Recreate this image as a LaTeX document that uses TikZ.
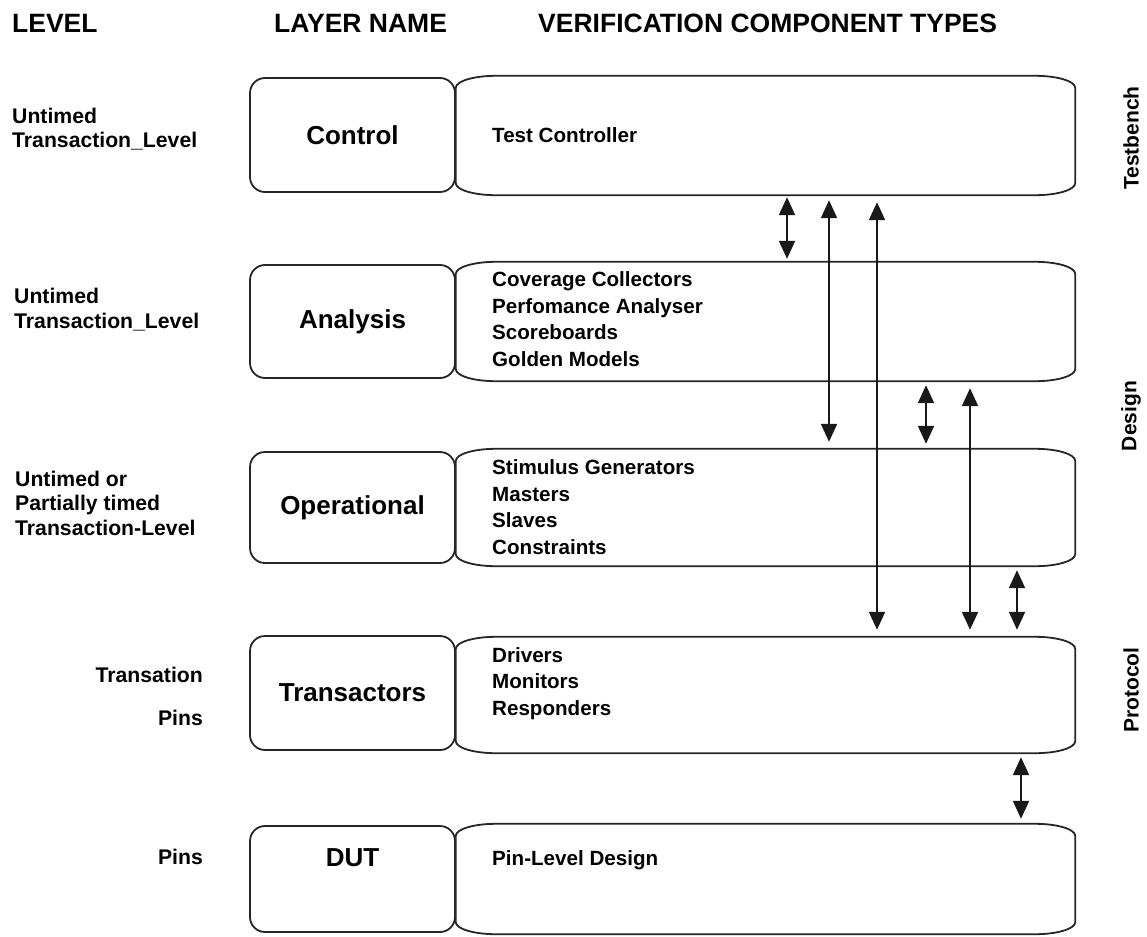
\documentclass[tikz,border=0pt]{standalone}
\usepackage{fontspec}
\setmainfont{Liberation Sans}
\usetikzlibrary{arrows.meta}

% outline of a component box: straight left/right sides, flat elliptic corners
\newcommand\capbox[1]{%
  \draw[boxline] ([xshift=40pt]#1.north west) -- ([xshift=-40pt]#1.north east)
    arc[start angle=90, end angle=0, x radius=40pt, y radius=12pt]
    -- ([yshift=12pt]#1.south east)
    arc[start angle=0, end angle=-90, x radius=40pt, y radius=12pt]
    -- ([xshift=40pt]#1.south west)
    arc[start angle=270, end angle=180, x radius=40pt, y radius=12pt]
    -- ([yshift=-12pt]#1.north west)
    arc[start angle=180, end angle=90, x radius=40pt, y radius=12pt] -- cycle;}

\begin{document}
\begin{tikzpicture}[x=1pt, y=-1pt,
  boxline/.style={draw=black!85, line width=1.8pt},
  layerbox/.style={boxline, rounded corners=15pt, minimum width=205pt,
    inner sep=0pt, font=\bfseries\fontsize{26}{30}\selectfont},
  compbox/.style={minimum width=619pt, inner sep=0pt},
  header/.style={anchor=base west, inner sep=0pt, font=\bfseries\fontsize{26.5}{30}\selectfont},
  leveltext/.style={inner sep=0pt, align=left, font=\bfseries\fontsize{21.2}{24.5}\selectfont},
  comptext/.style={anchor=base west, inner sep=0pt, align=left, font=\bfseries\fontsize{20.6}{26.5}\selectfont},
  sidetext/.style={rotate=90, inner sep=0pt, font=\bfseries\fontsize{21}{25}\selectfont},
  link/.style={draw=black!90, line width=2pt,
    {Triangle[length=18pt, width=16pt]}-{Triangle[length=18pt, width=16pt]}}]

\useasboundingbox (0,0) rectangle (1147,936);
\fill[white] (0,0) rectangle (1147,936);

% column headings
\node[header] (hlevel) at (12,33) {LEVEL};
\node[header] (hlayer) at (274,33) {LAYER NAME};
\node[header] (hcomp)  at (538,33) {VERIFICATION COMPONENT TYPES};

% layer boxes
\node[layerbox, minimum height=114pt] (ctrl) at (352.5,135)   {Control};
\node[layerbox, minimum height=113pt] (ana)  at (352.5,321.5) {Analysis};
\node[layerbox, minimum height=111pt] (oper) at (352.5,507.5) {Operational};
\node[layerbox, minimum height=114pt] (tran) at (352.5,693)   {Transactors};
\node[layerbox, minimum height=106pt] (dut)  at (352.5,879)   {};
\node[inner sep=0pt, font=\bfseries\fontsize{26}{30}\selectfont] (dutname) at (352.5,858) {DUT};

% component boxes
\node[compbox, minimum height=119pt] (ctrlR) at (765.5,135.5) {};
\node[compbox, minimum height=119pt] (anaR)  at (765.5,321.5) {};
\node[compbox, minimum height=117pt] (operR) at (765.5,507.5) {};
\node[compbox, minimum height=116pt] (tranR) at (765.5,695)   {};
\node[compbox, minimum height=110pt] (dutR)  at (765.5,879)   {};
\capbox{ctrlR}
\capbox{anaR}
\capbox{operR}
\capbox{tranR}
\capbox{dutR}

% component lists (base anchor sits on the last line)
\node[comptext] (c1) at (492,142.5) {Test Controller};
\node[comptext] (c2) at (492,366) {Coverage Collectors\\Perfomance Analyser\\Scoreboards\\Golden Models};
\node[comptext] (c3) at (492,554) {Stimulus Generators\\Masters\\Slaves\\Constraints};
\node[comptext] (c4) at (492,715) {Drivers\\Monitors\\Responders};
\node[comptext] (c5) at (492,865) {Pin-Level Design};

% abstraction levels
\node[leveltext, anchor=base west] (l1) at (12,148) {Untimed\\Transaction\_Level};
\node[leveltext, anchor=base west] (l2) at (14,328) {Untimed\\Transaction\_Level};
\node[leveltext, anchor=base west] (l3) at (15,535) {Untimed or\\Partially timed\\Transaction-Level};
\node[leveltext, anchor=base east] (l4a) at (203,682) {Transation};
\node[leveltext, anchor=base east] (l4b) at (203,725) {Pins};
\node[leveltext, anchor=base east] (l5)  at (203,864) {Pins};

% domains
\node[sidetext] (sTb)  at (1131,138) {Testbench};
\node[sidetext] (sDes) at (1131,416) {Design};
\node[sidetext] (sPro) at (1131,690) {Protocol};

% communication paths
\path (787,0) coordinate (xa) (829,0) coordinate (xb) (877,0) coordinate (xc)
      (926,0) coordinate (xd) (970,0) coordinate (xe) (1017,0) coordinate (xf)
      (1021,0) coordinate (xg);
\draw[link] ([yshift=-2pt]xa |- ctrlR.south) -- ([yshift=3pt]xa |- anaR.north);
\draw[link] ([yshift=-5pt]xb |- ctrlR.south) -- ([yshift=7pt]xb |- operR.north);
\draw[link] ([yshift=-7pt]xc |- ctrlR.south) -- ([yshift=7pt]xc |- tranR.north);
\draw[link] ([yshift=-4pt]xd |- anaR.south)  -- ([yshift=5pt]xd |- operR.north);
\draw[link] ([yshift=-7pt]xe |- anaR.south)  -- ([yshift=7pt]xe |- tranR.north);
\draw[link] ([yshift=-4pt]xf |- operR.south) -- ([yshift=7pt]xf |- tranR.north);
\draw[link] ([yshift=-4pt]xg |- tranR.south) -- ([yshift=5pt]xg |- dutR.north);
\end{tikzpicture}
\end{document}
